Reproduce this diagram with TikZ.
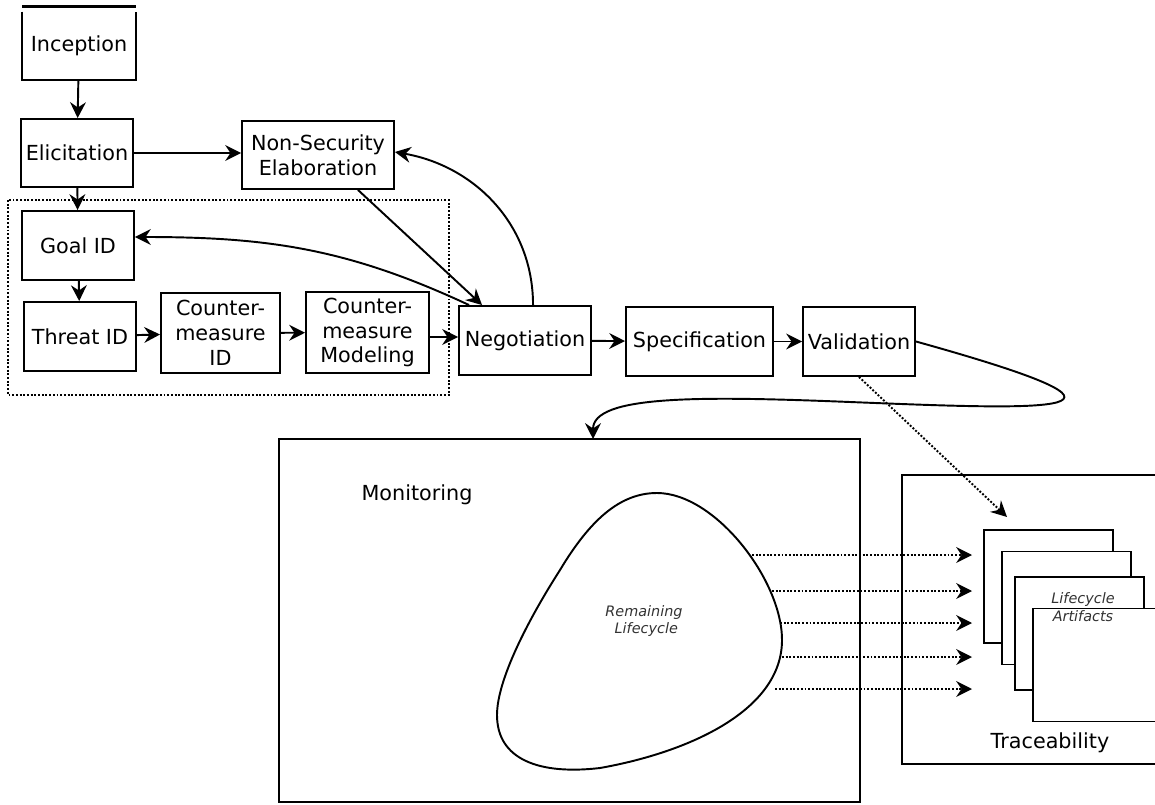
\documentclass[tikz,border=0pt]{standalone}
\usepackage{fontspec}
\setmainfont{DejaVu Sans}
\usetikzlibrary{arrows.meta}

\newcommand{\stagefont}{\fontsize{11.8}{14.2}\selectfont}
\newcommand{\notefont}{\fontsize{8.2}{10}\selectfont\itshape}

\tikzset{
  stage/.style={draw, line width=1.1pt, align=center, font=\stagefont, inner sep=1pt},
  conn/.style={-{Stealth[length=9pt,width=9pt,inset=3pt]}, line width=1.1pt},
  dotconn/.style={conn, densely dotted},
  sheet/.style={draw, line width=1.1pt, fill=white, minimum width=2.58cm, minimum height=2.26cm},
}

\begin{document}
\begin{tikzpicture}[x=0.02cm, y=-0.02cm]
  \useasboundingbox (0,0) rectangle (1155,804);

  % first stages
  \node(inc)[stage, draw=none, minimum width=2.24cm, minimum height=1.34cm] at (79,46) {Inception};
  \draw[line width=1.1pt] (inc.north west) -- (inc.south west) -- (inc.south east) -- (inc.north east);
  \draw[line width=2.2pt] ([yshift=0.1cm]inc.north west) -- ([yshift=0.1cm]inc.north east);

  \node(eli)[stage, minimum width=2.24cm, minimum height=1.36cm] at (77,153) {Elicitation};
  \node(nse)[stage, minimum width=3.04cm, minimum height=1.36cm] at (318,155) {Non-Security\\Elaboration};

  % security part
  \draw[line width=1.1pt, densely dotted] (8,200) rectangle (449,395);
  \node(goal)[stage, minimum width=2.24cm, minimum height=1.38cm] at (78,245.5) {Goal ID};
  \node(thr)[stage, minimum width=2.24cm, minimum height=1.38cm] at (80,336.5) {Threat ID};
  \node(cmid)[stage, minimum width=2.38cm, minimum height=1.6cm] at (220.5,333) {Counter-\\measure\\ID};
  \node(cmmod)[stage, minimum width=2.46cm, minimum height=1.62cm] at (367.5,332.5) {Counter-\\measure\\Modeling};

  \node(neg)[stage, minimum width=2.64cm, minimum height=1.38cm] at (525,340.5) {Negotiation};
  \node(spec)[stage, minimum width=2.94cm, minimum height=1.38cm] at (699.5,341.5) {Specification};
  \node(val)[stage, minimum width=2.24cm, minimum height=1.38cm] at (859,341.5) {Validation};

  \draw[conn] (inc) -- (eli);
  \draw[conn] (eli.east) -- (eli.east -| nse.west);
  \draw[conn] (eli) -- (goal);
  \draw[conn] (goal) -- (thr);
  \draw[conn] (thr) -- (cmid);
  \draw[conn] (cmid) -- (cmmod);
  \draw[conn] ([yshift=-0.09cm]cmmod.east) -- ([yshift=-0.09cm]cmmod.east -| neg.west);
  \draw[conn] (neg) -- (spec);
  \draw[conn] (spec) -- (val);

  \draw[conn] ([xshift=0.8cm]nse.south) -- ([xshift=0.48cm]neg.north west);
  \draw[conn] ([xshift=1.5cm]neg.north west) to[out=90, in=-10] ([yshift=0.06cm]nse.east);
  \draw[conn] ([xshift=0.22cm]neg.north west) to[out=155, in=0] ([yshift=0.17cm]goal.east);

  % lower part
  \node(mon)[draw, line width=1.1pt, minimum width=11.62cm, minimum height=7.26cm] at (569.5,620.5) {};
  \node(monlbl)[font=\stagefont] at (417,495) {Monitoring};
  \coordinate (monin) at (593,439);

  \node(trc)[draw, line width=1.1pt, minimum width=5.46cm, minimum height=5.78cm] at (1038.5,619.5) {};
  \node(trclbl)[font=\stagefont] at (1050,743) {Traceability};

  \node(art1)[sheet] at (1048.5,586.5) {};
  \node(art2)[sheet] at (1066.5,608) {};
  \node(art3)[sheet] at (1079.5,633.5) {};
  \node(art4)[sheet] at (1097.5,665) {};
  \node(artlbl)[font=\notefont, text=black!80, align=center] at (1083,607) {Lifecycle\\Artifacts};
  \coordinate (artin) at (1007,517);

  \draw[line width=1.1pt] (657,493) .. controls (715,493) and (782,580) .. (782,640)
    .. controls (782,710) and (690,752) .. (600,768)
    .. controls (540,775) and (497,760) .. (497,715)
    .. controls (497,680) and (528,620) .. (560,570)
    .. controls (590,520) and (620,493) .. cycle;
  \node(rl)[font=\notefont, text=black!80, align=center] at (644,621) {Remaining\\\ Lifecycle};

  \foreach \i/\x/\y in {1/752/555, 2/772/591, 3/780/623, 4/782/657, 5/775/689} {
    \coordinate (rl\i) at (\x,\y);
    \coordinate (ar\i) at (972,\y);
    \draw[dotconn] (rl\i) -- (ar\i);
  }

  \draw[conn] (val.east) .. controls (1180,415) and (1050,410) .. (850,402)
    .. controls (700,396) and (593,395) .. (monin);
  \draw[dotconn] (val.south) -- (artin);
\end{tikzpicture}
\end{document}
